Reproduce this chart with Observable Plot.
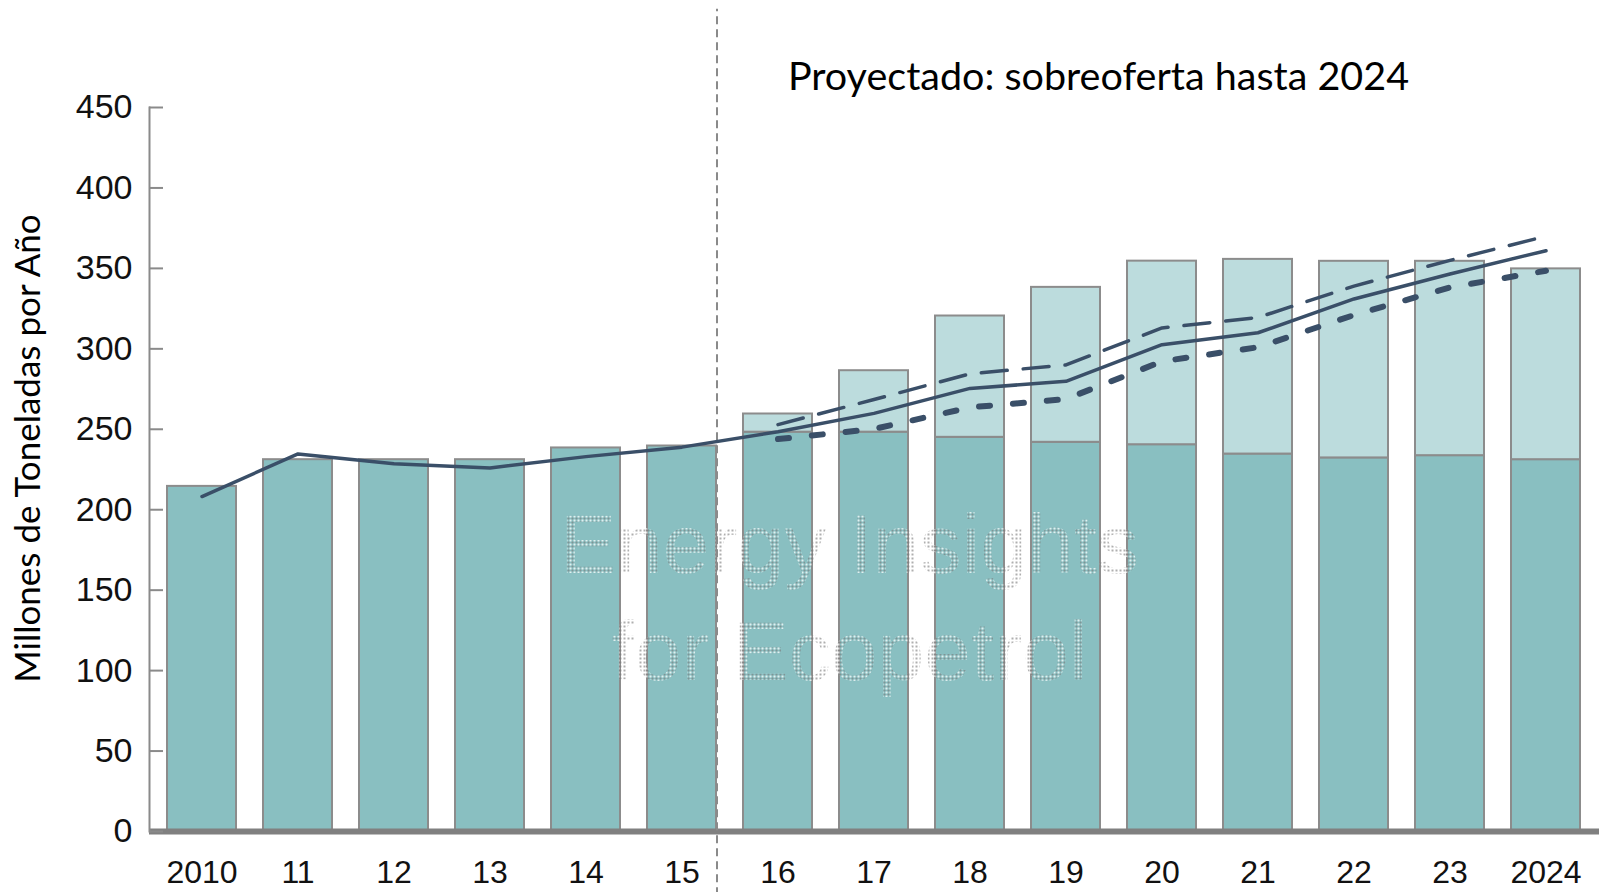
<!DOCTYPE html>
<html>
<head>
<meta charset="utf-8">
<script src="https://cdn.jsdelivr.net/npm/d3@7"></script>
<script src="https://cdn.jsdelivr.net/npm/@observablehq/plot@0.6"></script>
<style>
  html, body { margin: 0; padding: 0; background: #fff; }
  #chart svg { display: block; }
</style>
</head>
<body>
<div id="chart"></div>
<script>
// ---- data ----
const years = ["2010","11","12","13","14","15","16","17","18","19","20","21","22","23","2024"];
const baseSupply = [214.5, 231.1, 231.1, 231.1, 238.4, 239.6, 248.2, 248.2, 245.0, 241.9, 240.4, 234.6, 232.2, 233.6, 231.1];
const totalSupply = [214.5, 231.1, 231.1, 231.1, 238.4, 239.6, 259.5, 286.4, 320.4, 338.2, 354.5, 355.6, 354.4, 354.4, 349.7];
const demandCentral = [208.2, 234.7, 228.6, 226.0, 233.0, 238.9, 248.5, 259.9, 275.4, 279.8, 302.6, 310.0, 331.0, 346.5, 361.0];
const projYears = ["16","17","18","19","20","21","22","23","2024"];
const demandHigh = [252.9, 268.5, 284.5, 290.0, 313.0, 319.5, 339.0, 355.0, 370.0];
const demandLow = [243.9, 250.2, 263.6, 268.8, 292.2, 301.0, 321.0, 338.2, 348.5];
const yTicks = [0, 50, 100, 150, 200, 250, 300, 350, 400, 450];
const titleText = "Proyectado: sobreoferta hasta 2024";
const yLabelText = "Millones de Toneladas por Año";
const watermarkText = "Energy Insights\nfor Ecopetrol";

// ---- tables ----
const bars = years.map((yr, i) => ({year: yr, base: baseSupply[i], total: totalSupply[i]}));
const central = years.map((yr, i) => ({year: yr, v: demandCentral[i]}));
const high = projYears.map((yr, i) => ({year: yr, v: demandHigh[i]}));
const low = projYears.map((yr, i) => ({year: yr, v: demandLow[i]}));

const lineColor = "#3a4f68";
const barStroke = "#8c8c8c";
const tickFont = "'Liberation Sans', Arial, Helvetica, sans-serif";
const textFont = "Lato, 'Open Sans', sans-serif";

const chart = Plot.plot({
  width: 1600,
  height: 892,
  marginLeft: 149,
  marginRight: 1,
  marginTop: 107,
  marginBottom: 61,
  style: {background: "#fff"},
  x: {type: "band", domain: years, paddingInner: 0.28, paddingOuter: 0.15, axis: null, label: null},
  y: {domain: [0, 450], axis: null, label: null},
  marks: [
    // bars: base + projected extra capacity
    Plot.rectY(bars, {x: "year", y1: 0, y2: "base", fill: "#89bfc1", stroke: barStroke, strokeWidth: 2}),
    Plot.rectY(bars.filter(d => d.total > d.base), {x: "year", y1: "base", y2: "total", fill: "#bcdcdd", stroke: barStroke, strokeWidth: 2}),
    // watermark
    Plot.text([watermarkText], {
      frameAnchor: "top-left", dx: 700, dy: 572, lineAnchor: "bottom", lineHeight: 1.27,
      text: d => d, fontSize: 84, fontFamily: tickFont, fill: "url(#wm)", textAnchor: "middle"
    }),
    // baseline
    Plot.ruleY([0], {stroke: "#808080", strokeWidth: 6}),
    // left axis line
    Plot.frame({anchor: "left", stroke: "#8a8a8a", strokeWidth: 2}),
    // projection separator
    Plot.ruleX(["15"], {x: d => d, dx: 35, y1: -40, y2: 511, stroke: "#8a8a8a", strokeWidth: 2, strokeDasharray: "8 5", clip: false}),
    // demand lines
    Plot.lineY(central, {x: "year", y: "v", stroke: lineColor, strokeWidth: 3.5}),
    Plot.lineY(high, {x: "year", y: "v", stroke: lineColor, strokeWidth: 3.5, strokeDasharray: "26 16"}),
    Plot.lineY(low, {x: "year", y: "v", stroke: lineColor, strokeWidth: 6, strokeDasharray: "11 23"}),
    // axes
    Plot.axisY({ticks: yTicks, anchor: "left", tickSize: 14, dx: 14, tickPadding: 17, stroke: "#8a8a8a", strokeWidth: 2, fill: "#111", fontSize: 34, fontFamily: tickFont, tickFormat: d => String(d), label: null}),
    Plot.axisX({anchor: "bottom", tickSize: 0, tickPadding: 29, fill: "#111", fontSize: 32, fontFamily: tickFont, label: null}),
    // y label
    Plot.text([yLabelText], {frameAnchor: "left", dx: -121, dy: -21, rotate: -90, text: d => d, fontSize: 35, fontFamily: textFont, fill: "#000", textAnchor: "middle", lineAnchor: "middle"}),
    // annotation title
    Plot.text([titleText], {frameAnchor: "top-left", dx: 949, dy: -17.5, text: d => d, fontSize: 39.5, fontFamily: textFont, fill: "#000", textAnchor: "middle", lineAnchor: "bottom"})
  ]
});

chart.insertAdjacentHTML("afterbegin",
  '<defs><pattern id="wm" width="4" height="4" patternUnits="userSpaceOnUse">' +
  '<rect x="0" y="0" width="2" height="2" fill="#ffffff" fill-opacity="0.75"/>' +
  '<rect x="2" y="2" width="2" height="2" fill="#7a7a7a" fill-opacity="0.6"/>' +
  '</pattern></defs>');

document.getElementById("chart").appendChild(chart);
</script>
</body>
</html>
